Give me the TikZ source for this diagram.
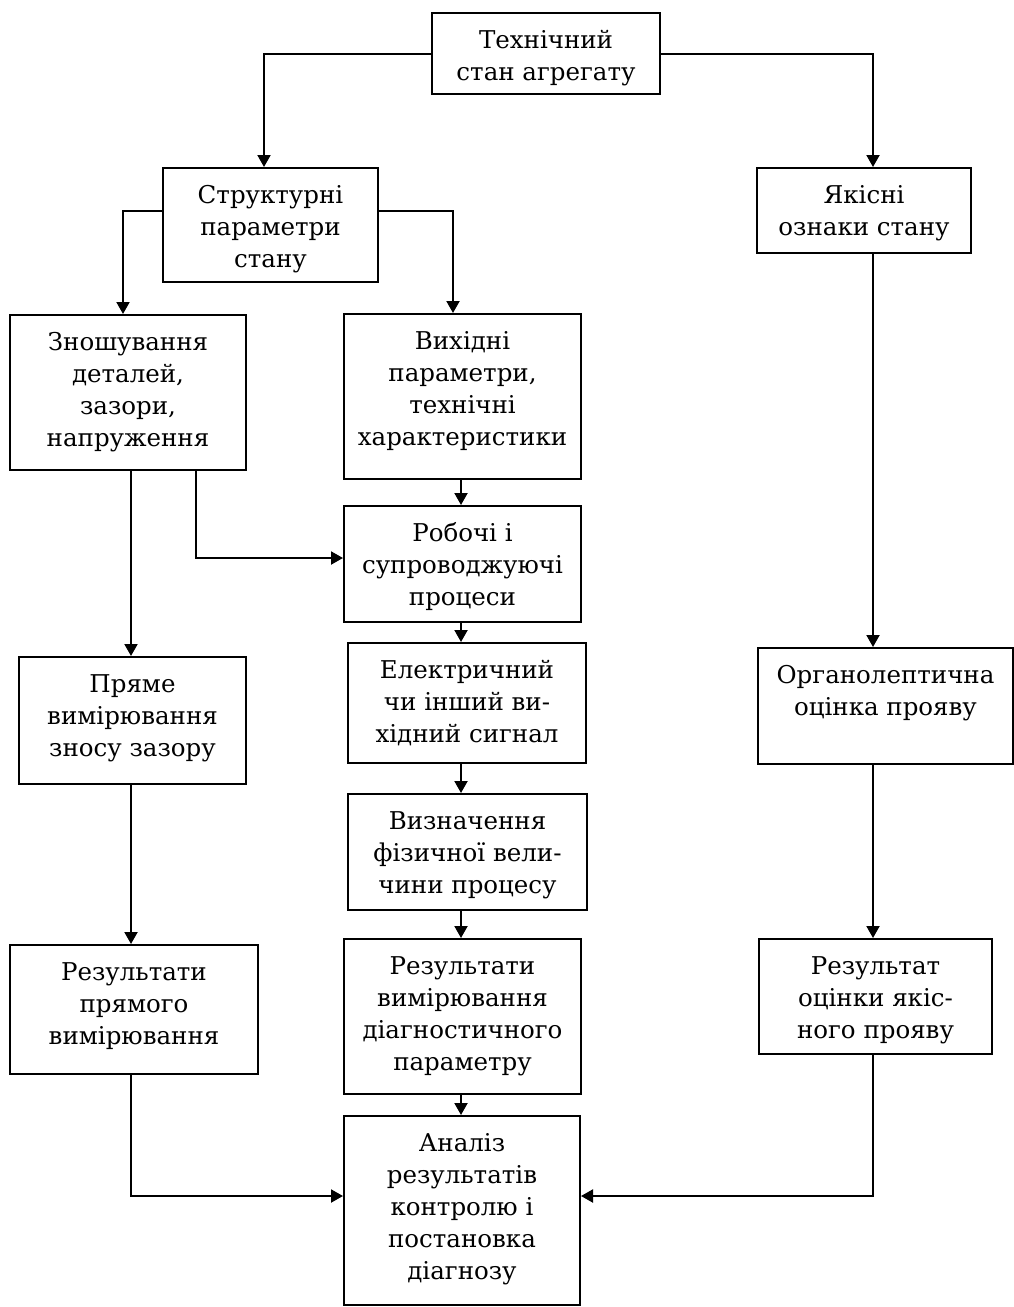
\documentclass[tikz,border=0pt]{standalone}
\usepackage{fontspec}
\usetikzlibrary{arrows.meta}
\newfontfamily\boxfont{DejaVu Serif}
\def\boxline{2pt}

\tikzset{
  box/.style={draw, line width=\boxline, align=center, anchor=north,
              inner xsep=4pt, inner ysep=0pt,
              font=\boxfont\fontsize{24.5pt}{32pt}\selectfont},
  arr/.style={line width=\boxline, -{Triangle[length=12pt,width=13pt]}}
}

\begin{document}
\begin{tikzpicture}[x=1pt, y=-1pt]
    \useasboundingbox (0,0) rectangle (1014,1307);
    % columns and rows the connectors run along
    \coordinate (colS) at (264,0);
    \coordinate (colLL) at (123,0);
    \coordinate (colL) at (131,0);
    \coordinate (colK) at (196,0);
    \coordinate (colV) at (453,0);
    \coordinate (colM) at (461,0);
    \coordinate (colR) at (873,0);
    \coordinate (rowS) at (0,211);
    \coordinate (rowK) at (0,558);
    \coordinate (rowA) at (0,1196);

    \node[box, minimum width=228pt, text height=67pt, text depth=14pt] (tech) at (546,12) {Технічний\\стан агрегату};
    \node[box, minimum width=215pt, text height=99pt, text depth=15pt] (struct) at (270.5,167) {Структурні\\параметри\\стану};
    \node[box, minimum width=214pt, text height=67pt, text depth=18pt] (yakisni) at (864,167) {Якісні\\ознаки стану};
    \node[box, minimum width=236pt, text height=131pt, text depth=24pt] (znosh) at (128,314) {Зношування\\деталей,\\зазори,\\напруження};
    \node[box, minimum width=237pt, text height=131pt, text depth=34pt] (vyhid) at (462.5,313) {Вихідні\\параметри,\\технічні\\характеристики};
    \node[box, minimum width=237pt, text height=99pt, text depth=17pt] (robochi) at (462.5,505) {Робочі і\\супроводжуючі\\процеси};
    \node[box, minimum width=238pt, text height=99pt, text depth=21pt] (elektr) at (467,642) {Електричний\\чи інший ви-\\хідний сигнал};
    \node[box, minimum width=239pt, text height=99pt, text depth=17pt] (vyzn) at (467.5,793) {Визначення\\фізичної вели-\\чини процесу};
    \node[box, minimum width=227pt, text height=99pt, text depth=28pt] (priame) at (132.5,656) {Пряме\\вимірювання\\зносу зазору};
    \node[box, minimum width=255pt, text height=67pt, text depth=49pt] (organ) at (885.5,647) {Органолептична\\оцінка прояву};
    \node[box, minimum width=248pt, text height=99pt, text depth=30pt] (rezpr) at (134,944) {Результати\\прямого\\вимірювання};
    \node[box, minimum width=237pt, text height=131pt, text depth=24pt] (rezdiag) at (462.5,938) {Результати\\вимірювання\\діагностичного\\параметру};
    \node[box, minimum width=233pt, text height=99pt, text depth=16pt] (rezyak) at (875.5,938) {Результат\\оцінки якіс-\\ного прояву};
    \node[box, minimum width=236pt, text height=163pt, text depth=26pt] (analiz) at (462,1115) {Аналіз\\результатів\\контролю і\\постановка\\діагнозу};

    % top level
    \draw[arr] (tech.west) -| (struct.north -| colS);
    \draw[arr] (tech.east) -| (yakisni.north -| colR);
    % structural parameters
    \draw[arr] (struct.west |- rowS) -| (znosh.north -| colLL);
    \draw[arr] (struct.east |- rowS) -| (vyhid.north -| colV);
    % middle chain
    \foreach \a/\b in {vyhid/robochi, robochi/elektr, elektr/vyzn, vyzn/rezdiag, rezdiag/analiz}
      \draw[arr] (\a.south -| colM) -- (\b.north -| colM);
    % left branch
    \draw[arr] (znosh.south -| colK) |- (robochi.west |- rowK);
    \draw[arr] (znosh.south -| colL) -- (priame.north -| colL);
    \draw[arr] (priame.south -| colL) -- (rezpr.north -| colL);
    \draw[arr] (rezpr.south -| colL) |- (analiz.west |- rowA);
    % right branch
    \draw[arr] (yakisni.south -| colR) -- (organ.north -| colR);
    \draw[arr] (organ.south -| colR) -- (rezyak.north -| colR);
    \draw[arr] (rezyak.south -| colR) |- (analiz.east |- rowA);
\end{tikzpicture}
\end{document}
